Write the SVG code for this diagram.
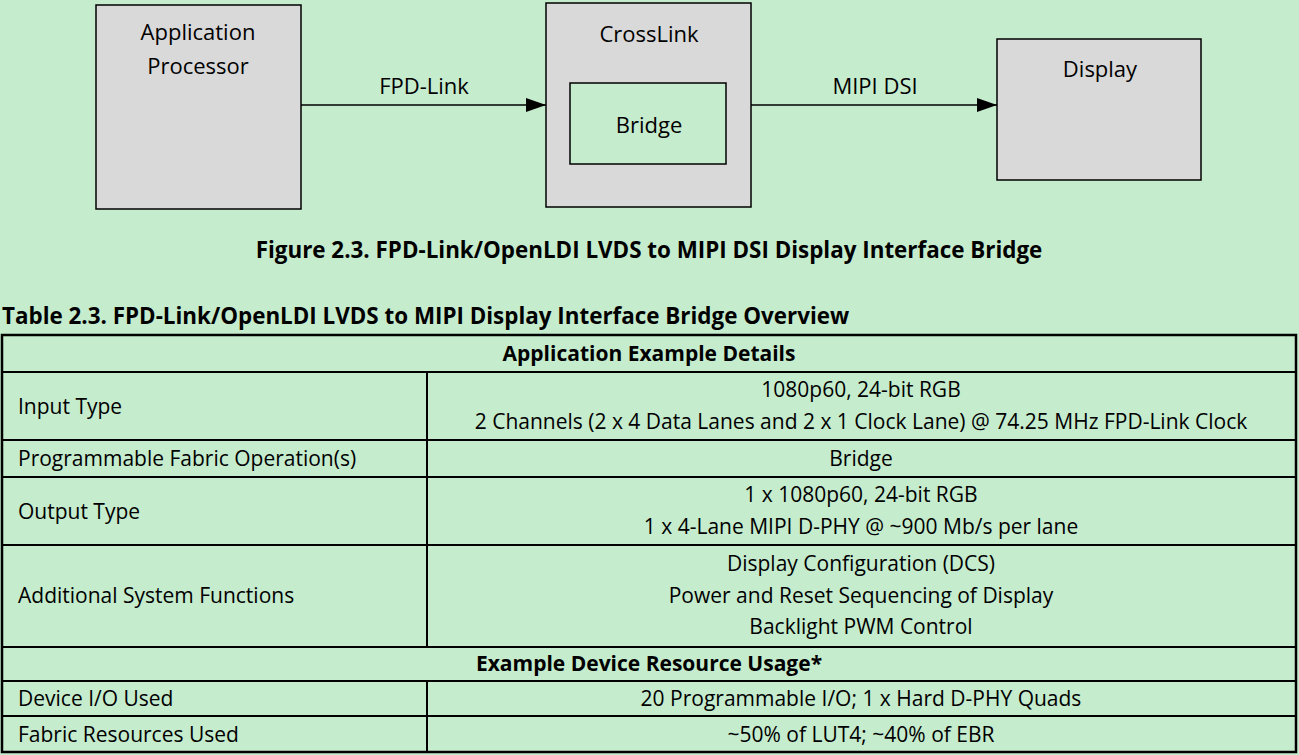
<svg xmlns="http://www.w3.org/2000/svg" width="1299" height="755" viewBox="0 0 1299 755">
<style>
text{font-family:"Open Sans","Liberation Sans",sans-serif;fill:#000;font-size:21px}
.n{font-size:22px}
.c{text-anchor:middle}
.b{font-weight:bold}
.h{font-size:22.4px}
.box{fill:#d9d9d9;stroke:#000;stroke-width:1.5}
.t{stroke:#000;stroke-width:2.5;fill:none}
.w{stroke:#000;stroke-width:2}
</style>
<defs><marker id="ah" markerWidth="20" markerHeight="14" refX="20" refY="7" orient="auto" markerUnits="userSpaceOnUse" viewBox="0 0 20 14"><path d="M0,0L20,7L0,14z" fill="#000"/></marker></defs>
<rect width="1299" height="755" fill="#c6ecce"/>
<g id="app"><rect class="box" x="96" y="5" width="205" height="204"/><text class="n c" x="198" y="40">Application</text><text class="n c" x="198" y="74">Processor</text></g>
<g id="crosslink"><rect class="box" x="546" y="3" width="205" height="204"/><text class="n c" x="649" y="42">CrossLink</text></g>
<g id="bridge"><rect x="570" y="83" width="156" height="81" fill="#c6ecce" stroke="#000" stroke-width="1.5"/><text class="n c" x="649" y="133">Bridge</text></g>
<g id="display"><rect class="box" x="997" y="39" width="204" height="141"/><text class="n c" x="1100" y="77">Display</text></g>
<g id="connectors">
<line x1="301" y1="105" x2="546" y2="105" stroke="#000" stroke-width="1.5" marker-end="url(#ah)"/>
<line x1="751" y1="105" x2="997" y2="105" stroke="#000" stroke-width="1.5" marker-end="url(#ah)"/>
<text class="n c" x="424" y="94">FPD-Link</text>
<text class="n c" x="875" y="94">MIPI DSI</text>
</g>
<text class="c b h" x="649" y="258">Figure 2.3. FPD-Link/OpenLDI LVDS to MIPI DSI Display Interface Bridge</text>
<text class="b h" x="2" y="324">Table 2.3. FPD-Link/OpenLDI LVDS to MIPI Display Interface Bridge Overview</text>
<g id="table">
<rect class="t" x="2" y="335" width="1294" height="417"/>
<line class="w" x1="2" y1="372" x2="1296" y2="372"/>
<line class="w" x1="2" y1="440" x2="1296" y2="440"/>
<line class="w" x1="2" y1="477" x2="1296" y2="477"/>
<line class="w" x1="2" y1="545" x2="1296" y2="545"/>
<line class="w" x1="2" y1="647" x2="1296" y2="647"/>
<line class="w" x1="2" y1="681" x2="1296" y2="681"/>
<line class="w" x1="2" y1="716" x2="1296" y2="716"/>
<line class="w" x1="427" y1="372" x2="427" y2="647"/>
<line class="w" x1="427" y1="681" x2="427" y2="752"/>
<text class="c b" x="649" y="361">Application Example Details</text>
<text x="18" y="414">Input Type</text>
<text class="c" x="861" y="397">1080p60, 24-bit RGB</text>
<text class="c" x="861" y="429">2 Channels (2 x 4 Data Lanes and 2 x 1 Clock Lane) @ 74.25 MHz FPD-Link Clock</text>
<text x="18" y="466">Programmable Fabric Operation(s)</text>
<text class="c" x="861" y="466">Bridge</text>
<text x="18" y="519">Output Type</text>
<text class="c" x="861" y="502">1 x 1080p60, 24-bit RGB</text>
<text class="c" x="861" y="534">1 x 4-Lane MIPI D-PHY @ ~900 Mb/s per lane</text>
<text x="18" y="603">Additional System Functions</text>
<text class="c" x="861" y="571">Display Configuration (DCS)</text>
<text class="c" x="861" y="603">Power and Reset Sequencing of Display</text>
<text class="c" x="861" y="634">Backlight PWM Control</text>
<text class="c b" x="649" y="671">Example Device Resource Usage*</text>
<text x="18" y="706">Device I/O Used</text>
<text class="c" x="861" y="706">20 Programmable I/O; 1 x Hard D-PHY Quads</text>
<text x="18" y="742">Fabric Resources Used</text>
<text class="c" x="861" y="742">~50% of LUT4; ~40% of EBR</text>
</g>
</svg>
